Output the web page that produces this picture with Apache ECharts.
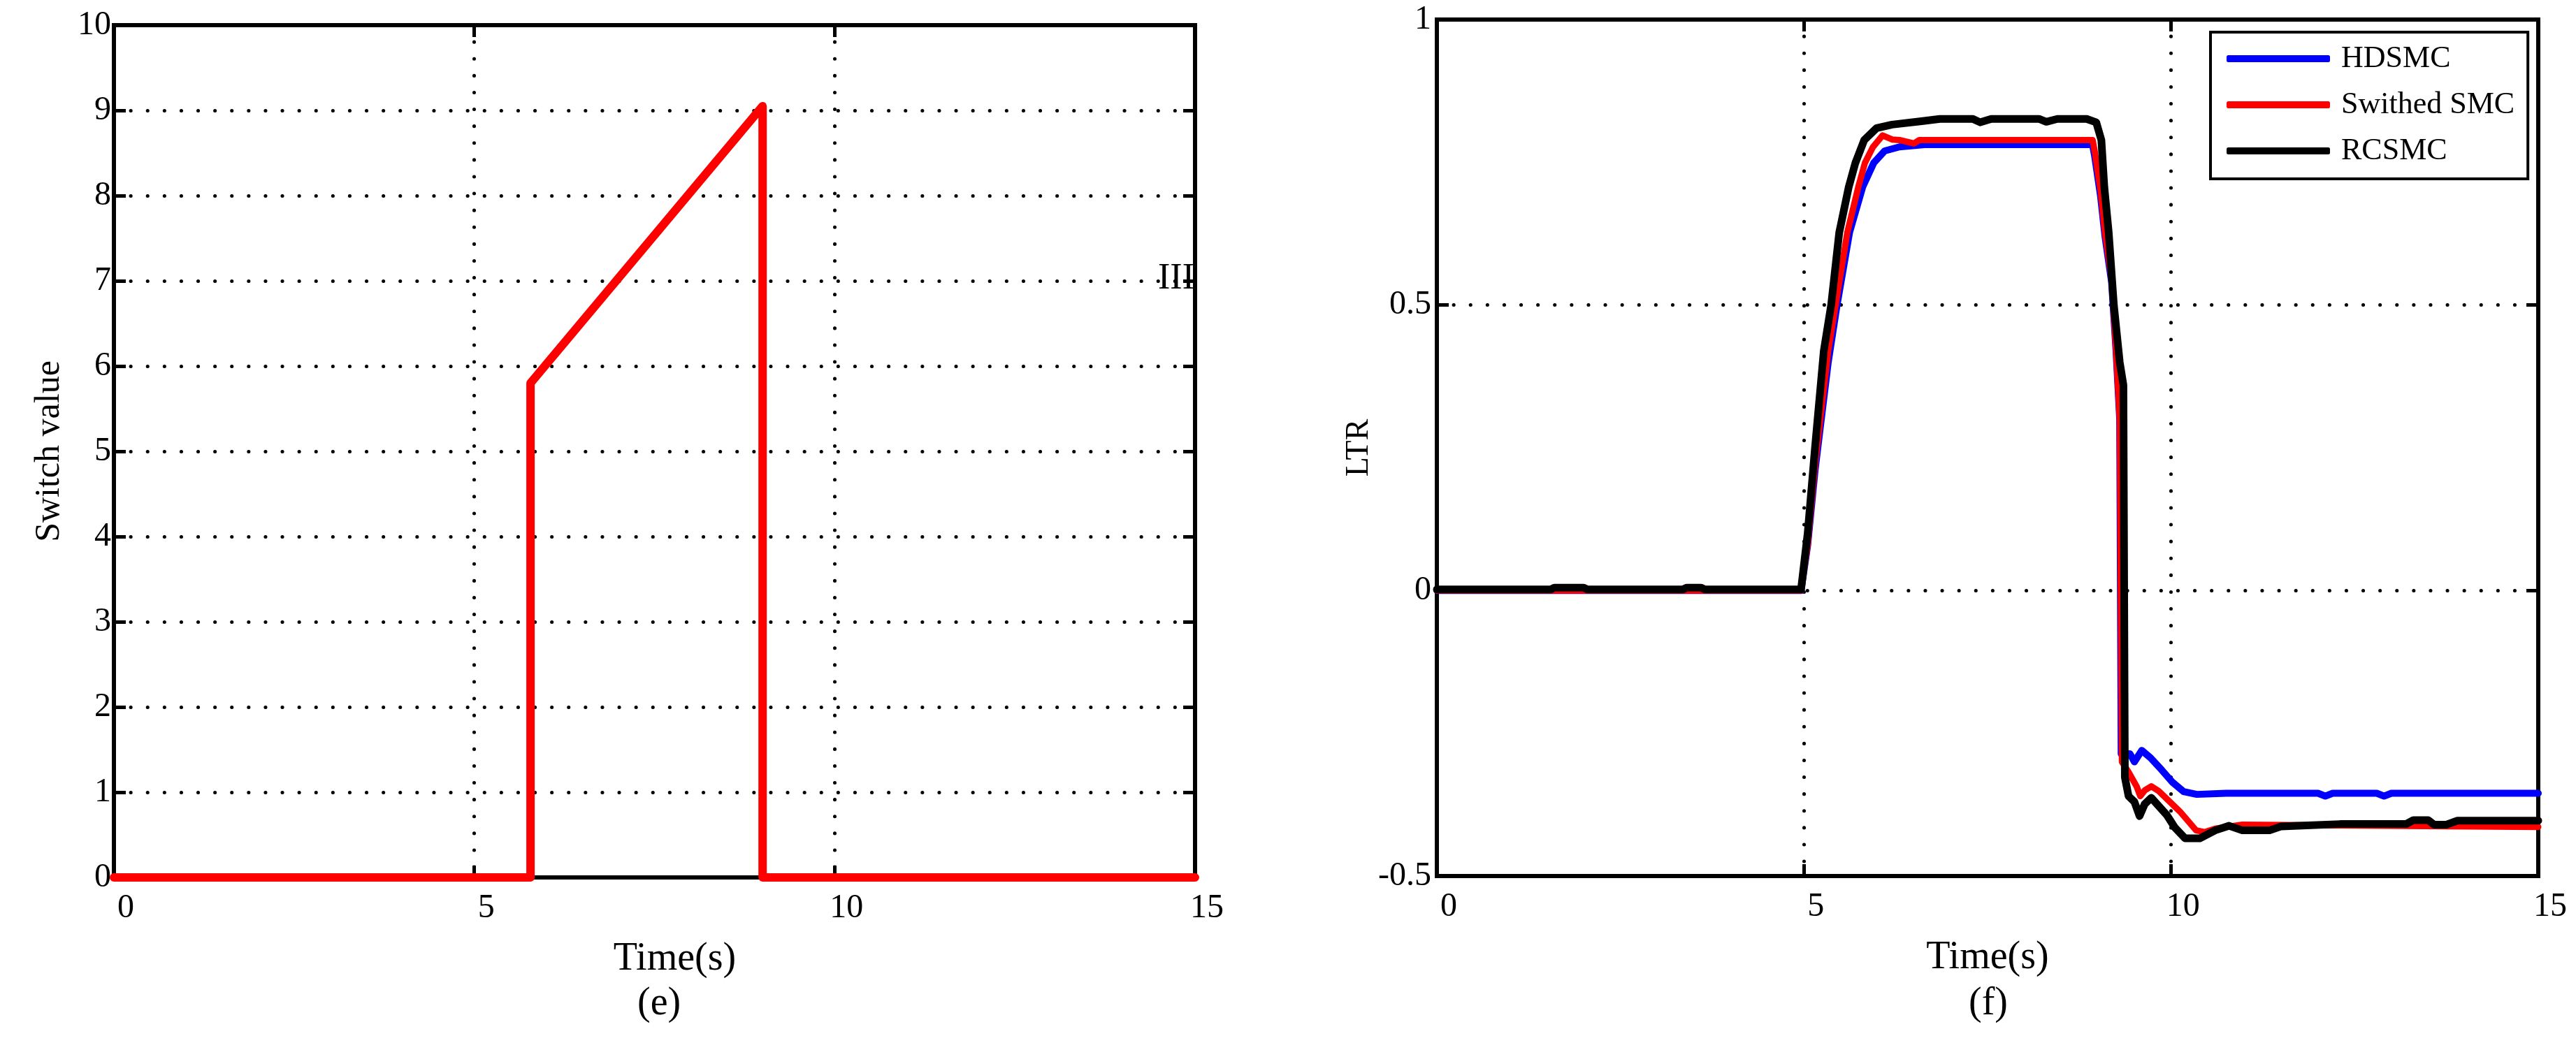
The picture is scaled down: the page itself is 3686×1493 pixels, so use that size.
<!DOCTYPE html>
<html><head><meta charset="utf-8">
<script src="https://cdn.jsdelivr.net/npm/echarts@6/dist/echarts.min.js"></script>
<style>html,body{margin:0;padding:0;background:#fff}#c{width:3686px;height:1493px}</style>
</head><body><div id="c"></div>
<script>
// ---------- data ----------
const switchT = [0, 5.78, 5.78, 9.0, 9.0, 15];
const switchV = [0, 0, 5.8, 9.05, 0, 0];

const hdsmcT = [0, 4.96, 5.05, 5.15, 5.33, 5.45, 5.62, 5.80, 5.95, 6.1, 6.3, 6.64, 8.93, 8.96, 9.04, 9.1, 9.19, 9.25, 9.3, 9.32, 9.44, 9.5, 9.6, 9.72, 9.87, 10.02, 10.17, 10.35, 10.75, 12.0, 12.1, 12.2, 12.8, 12.9, 13.0, 15];
const hdsmcV = [0, 0, 0.08, 0.21, 0.40, 0.5, 0.627, 0.707, 0.749, 0.77, 0.777, 0.781, 0.781, 0.76, 0.69, 0.62, 0.54, 0.42, 0.30, -0.286, -0.286, -0.30, -0.28, -0.293, -0.314, -0.336, -0.352, -0.357, -0.355, -0.355, -0.36, -0.355, -0.355, -0.36, -0.355, -0.355];

const switchedT = [0, 4.96, 5.05, 5.15, 5.33, 5.43, 5.59, 5.74, 5.83, 5.94, 6.07, 6.2, 6.3, 6.5, 6.57, 8.93, 8.96, 9.04, 9.1, 9.19, 9.25, 9.3, 9.33, 9.42, 9.53, 9.58, 9.64, 9.73, 9.83, 10.12, 10.34, 10.46, 10.6, 10.97, 15];
const switchedV = [0, 0, 0.08, 0.22, 0.42, 0.5, 0.627, 0.707, 0.749, 0.777, 0.797, 0.79, 0.789, 0.783, 0.789, 0.789, 0.769, 0.70, 0.627, 0.545, 0.42, 0.30, -0.30, -0.318, -0.343, -0.36, -0.35, -0.343, -0.351, -0.387, -0.42, -0.423, -0.417, -0.41, -0.414];

const rcsmcT = [0, 1.55, 1.6, 2.0, 2.05, 3.35, 3.4, 3.6, 3.65, 4.96, 5.05, 5.15, 5.27, 5.37, 5.48, 5.61, 5.70, 5.82, 5.99, 6.2, 6.6, 6.85, 7.3, 7.4, 7.55, 8.2, 8.3, 8.45, 8.85, 8.98, 9.05, 9.09, 9.15, 9.22, 9.3, 9.35, 9.37, 9.42, 9.5, 9.57, 9.64, 9.73, 9.94, 10.05, 10.19, 10.39, 10.6, 10.79, 10.97, 11.34, 11.5, 12.3, 13.2, 13.3, 13.5, 13.58, 13.75, 13.9, 15];
const rcsmcV = [0.002, 0.002, 0.005, 0.005, 0.002, 0.002, 0.005, 0.005, 0.002, 0.002, 0.1, 0.25, 0.42, 0.5, 0.627, 0.707, 0.749, 0.789, 0.81, 0.816, 0.822, 0.826, 0.826, 0.82, 0.826, 0.826, 0.821, 0.826, 0.826, 0.82, 0.789, 0.707, 0.627, 0.5, 0.4, 0.36, -0.327, -0.36, -0.37, -0.395, -0.374, -0.363, -0.393, -0.415, -0.434, -0.434, -0.42, -0.412, -0.42, -0.42, -0.413, -0.409, -0.409, -0.402, -0.402, -0.41, -0.41, -0.403, -0.403];

const seriesNames = ['HDSMC', 'Swithed SMC', 'RCSMC'];
const leftYLabel = 'Switch value';
const rightYLabel = 'LTR';
const xLabel = 'Time(s)';
const panelLabels = ['(e)', '(f)'];
const strayText = 'III';

// ---------- helpers ----------
const FONT = '"Liberation Serif","DejaVu Serif",serif';
const zip = (t, v) => t.map((x, i) => [x, v[i]]);
const gridLine = {show: true, lineStyle: {color: '#000', width: 5, type: [0.1, 24], cap: 'round'}};
const axLine = {show: true, onZero: false, lineStyle: {color: '#000', width: 6, cap: 'square'}};
const tick = {show: true, inside: true, length: 17, lineStyle: {color: '#000', width: 5}};

function xAxes(gi, name, namePad) {
  return [
    {type: 'value', gridIndex: gi, position: 'bottom', min: 0, max: 15, interval: 5,
     axisLine: axLine, axisTick: tick, splitLine: gridLine,
     axisLabel: {fontFamily: FONT, fontSize: 48, color: '#000', margin: 20, padding: [0, 0, 0, 34]},
     name: name, nameLocation: 'middle', nameGap: 89,
     nameTextStyle: {fontFamily: FONT, fontSize: 56, color: '#000', padding: namePad}},
    {type: 'value', gridIndex: gi, position: 'top', min: 0, max: 15, interval: 5,
     axisLine: axLine, axisTick: tick, splitLine: {show: false}, axisLabel: {show: false}}
  ];
}
function yAxes(gi, min, max, interval, name, nameGap, nameSize, margin) {
  return [
    {type: 'value', gridIndex: gi, position: 'left', min: min, max: max, interval: interval,
     axisLine: axLine, axisTick: tick, splitLine: gridLine,
     axisLabel: {fontFamily: FONT, fontSize: 48, color: '#000', margin: margin},
     name: name, nameLocation: 'middle', nameGap: nameGap,
     nameTextStyle: {fontFamily: FONT, fontSize: nameSize, color: '#000'}},
    {type: 'value', gridIndex: gi, position: 'right', min: min, max: max, interval: interval,
     axisLine: axLine, axisTick: tick, splitLine: {show: false}, axisLabel: {show: false}}
  ];
}

const chart = echarts.init(document.getElementById('c'), null, {renderer: 'canvas'});
chart.setOption({
  backgroundColor: '#fff',
  animation: false,
  grid: [
    {left: 163, right: 3686 - 1710, top: 36, bottom: 1493 - 1256},
    {left: 2056, right: 3686 - 3632, top: 28, bottom: 1493 - 1254}
  ],
  xAxis: [...xAxes(0, xLabel, [0, 0, 0, 58]), ...xAxes(1, xLabel, [0, 0, 0, 0])],
  yAxis: [...yAxes(0, 0, 10, 1, leftYLabel, 67, 50, 4), ...yAxes(1, -0.5, 1, 0.5, rightYLabel, 26, 46, 8)],
  legend: {
    orient: 'vertical', left: 3163, top: 46,
    data: seriesNames,
    icon: 'roundRect', itemWidth: 148, itemHeight: 10, itemGap: 16,
    borderColor: '#000', borderWidth: 4, padding: [13, 19, 15, 23], backgroundColor: '#fff',
    textStyle: {fontFamily: FONT, fontSize: 44, color: '#000', lineHeight: 50, padding: [0, 0, 0, 11]}
  },
  series: [
    {name: 'Switch', type: 'line', xAxisIndex: 0, yAxisIndex: 0, data: zip(switchT, switchV),
     symbol: 'none', lineStyle: {color: '#ff0000', width: 12, cap: 'round', join: 'round'}, z: 3},
    {name: seriesNames[0], type: 'line', xAxisIndex: 2, yAxisIndex: 2, data: zip(hdsmcT, hdsmcV),
     symbol: 'none', color: '#0000ff', lineStyle: {color: '#0000ff', width: 10, cap: 'round', join: 'round'}, z: 3},
    {name: seriesNames[1], type: 'line', xAxisIndex: 2, yAxisIndex: 2, data: zip(switchedT, switchedV),
     symbol: 'none', color: '#ff0000', lineStyle: {color: '#ff0000', width: 9, cap: 'round', join: 'round'}, z: 4},
    {name: seriesNames[2], type: 'line', xAxisIndex: 2, yAxisIndex: 2, data: zip(rcsmcT, rcsmcV),
     symbol: 'none', color: '#000000', lineStyle: {color: '#000000', width: 11, cap: 'round', join: 'round'}, z: 5}
  ],
  graphic: [
    {type: 'text', left: 944 - 32, top: 1442 - 33, style: {text: panelLabels[0], font: '56px ' + FONT, fill: '#000'}},
    {type: 'text', left: 2845 - 28, top: 1442 - 33, style: {text: panelLabels[1], font: '56px ' + FONT, fill: '#000'}},
    {type: 'text', x: 1657, y: 399, style: {text: strayText, font: '52px ' + FONT, fill: '#000', letterSpacing: 9, align: 'left', verticalAlign: 'middle'}, z: 10}
  ]
});
</script></body></html>
